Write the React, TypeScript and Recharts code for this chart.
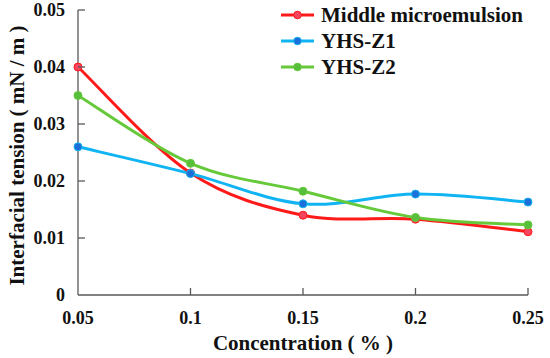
import React from "react";
import { LineChart, Line, XAxis, YAxis } from "recharts";

const concentrations = [0.05, 0.1, 0.15, 0.2, 0.25];
const middleMicroemulsion = [0.04, 0.0214, 0.014, 0.0133, 0.0111];
const yhsZ1 = [0.026, 0.0213, 0.016, 0.0177, 0.0163];
const yhsZ2 = [0.035, 0.0231, 0.0182, 0.0136, 0.0123];
const xTicks = [0.05, 0.1, 0.15, 0.2, 0.25];
const yTicks = [0, 0.01, 0.02, 0.03, 0.04, 0.05];

const seriesNames = ["Middle microemulsion", "YHS-Z1", "YHS-Z2"];
const lineColors = ["#ff1a1a", "#10b4f2", "#66c93a"];
const dotColors = ["#f5455e", "#1c6fd8", "#57bf3c"];

const data = concentrations.map((c, i) => ({
  c,
  m: middleMicroemulsion[i],
  z1: yhsZ1[i],
  z2: yhsZ2[i],
}));

const FONT = "Liberation Serif, Times New Roman, serif";
const AXIS = "#595959";

// Excel-like smoothed line (Catmull-Rom with 1/6 tangents)
const excelCurve = (context: any) => {
  let pts: [number, number][] = [];
  return {
    areaStart() {},
    areaEnd() {},
    lineStart() {
      pts = [];
    },
    point(x: number, y: number) {
      pts.push([+x, +y]);
    },
    lineEnd() {
      if (!pts.length) return;
      context.moveTo(pts[0][0], pts[0][1]);
      for (let i = 0; i < pts.length - 1; i++) {
        const p0 = pts[i - 1] || pts[i];
        const p1 = pts[i];
        const p2 = pts[i + 1];
        const p3 = pts[i + 2] || pts[i + 1];
        const c1x = p1[0] + (p2[0] - p0[0]) / 6;
        const c1y = p1[1] + (p2[1] - p0[1]) / 6;
        const c2x = p2[0] - (p3[0] - p1[0]) / 6;
        const c2y = p2[1] - (p3[1] - p1[1]) / 6;
        context.bezierCurveTo(c1x, c1y, c2x, c2y, p2[0], p2[1]);
      }
    },
  };
};

const XTick = (props: any) => {
  const { x, y, payload } = props;
  const v = payload.value;
  return (
    <g>
      {v !== 0.05 && <line x1={x} y1={y} x2={x} y2={y - 7} stroke={AXIS} strokeWidth={1.3} />}
      <text x={x} y={y + 29} textAnchor="middle" style={{ fontFamily: FONT, fontWeight: 700, fontSize: 18 }} fill="#111">
        {String(v)}
      </text>
    </g>
  );
};

const YTick = (props: any) => {
  const { x, y, payload } = props;
  const v = payload.value;
  return (
    <g>
      {v !== 0 && <line x1={x} y1={y} x2={x + 7} y2={y} stroke={AXIS} strokeWidth={1.3} />}
      <text x={x - 13} y={y + 6} textAnchor="end" style={{ fontFamily: FONT, fontWeight: 700, fontSize: 18 }} fill="#111">
        {String(v)}
      </text>
    </g>
  );
};

const LegendBox = () => (
  <div
    style={{
      position: "absolute",
      left: 280,
      top: 2,
      fontFamily: FONT,
      fontWeight: 700,
      fontSize: 21,
      color: "#111",
      lineHeight: "26px",
    }}
  >
    {seriesNames.map((n, i) => (
      <div key={n} style={{ display: "flex", alignItems: "center", height: 26 }}>
        <svg width={36} height={12} style={{ marginRight: 5 }}>
          <line x1={1} y1={6} x2={34} y2={6} stroke={lineColors[i]} strokeWidth={3} />
          <circle cx={17.5} cy={6} r={3.8} fill={dotColors[i]} stroke={lineColors[i]} strokeWidth={1} />
        </svg>
        <span>{n}</span>
      </div>
    ))}
  </div>
);

const keys = ["m", "z1", "z2"];

export default function App() {
  return (
    <div style={{ position: "absolute", left: 0, top: 0, width: 550, height: 358, background: "#fff" }}>
      <LineChart width={550} height={358} data={data} margin={{ top: 10, right: 22, bottom: 0, left: 0 }}>
        <XAxis
          dataKey="c"
          type="number"
          domain={[0.05, 0.25]}
          ticks={xTicks}
          tickSize={0}
          tickMargin={0}
          tickLine={false}
          tick={<XTick />}
          stroke={AXIS}
          strokeWidth={1.3}
          height={63}
          interval={0}
          label={(p: any) => {
            const vb = p.viewBox;
            return (
              <text x={vb.x + vb.width / 2} y={350} textAnchor="middle" style={{ fontFamily: FONT, fontWeight: 700, fontSize: 21 }} fill="#111">
                Concentration ( % )
              </text>
            );
          }}
        />
        <YAxis
          type="number"
          domain={[0, 0.05]}
          ticks={yTicks}
          tickSize={0}
          tickMargin={0}
          tickLine={false}
          tick={<YTick />}
          stroke={AXIS}
          strokeWidth={1.3}
          width={78}
          interval={0}
          label={(p: any) => {
            const vb = p.viewBox;
            const cy = vb.y + vb.height / 2 + 3;
            return (
              <text
                x={17}
                y={cy}
                transform={`rotate(-90 17 ${cy})`}
                textAnchor="middle"
                dominantBaseline="central"
                style={{ fontFamily: FONT, fontWeight: 700, fontSize: 21 }}
                fill="#111"
              >
                Interfacial tension ( mN / m )
              </text>
            );
          }}
        />
        {keys.map((k, i) => (
          <Line
            key={k}
            dataKey={k}
            name={seriesNames[i]}
            type={excelCurve as any}
            stroke={lineColors[i]}
            strokeWidth={3}
            dot={{ r: 4, fill: dotColors[i], stroke: lineColors[i], strokeWidth: 1 }}
            isAnimationActive={false}
          />
        ))}
      </LineChart>
      <LegendBox />
    </div>
  );
}
